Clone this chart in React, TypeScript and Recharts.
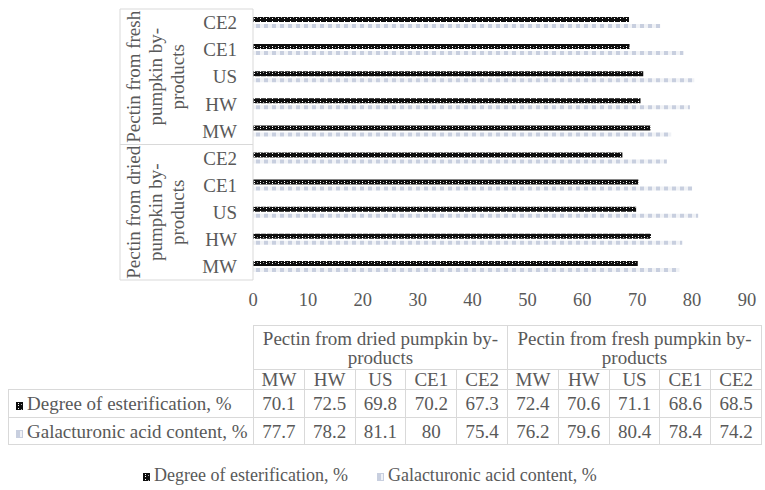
import { Bar, BarChart, Legend, XAxis, YAxis } from "recharts";

const METHODS = ["MW", "HW", "US", "CE1", "CE2"];
const GROUPS = ["Pectin from dried pumpkin by-products", "Pectin from fresh pumpkin by-products"];
const GROUP_LINES = [
  ["Pectin from dried", "pumpkin by-", "products"],
  ["Pectin from fresh", "pumpkin by-", "products"],
];
const SERIES = ["Degree of esterification, %", "Galacturonic acid content, %"];
const DE_DRIED = [70.1, 72.5, 69.8, 70.2, 67.3];
const DE_FRESH = [72.4, 70.6, 71.1, 68.6, 68.5];
const GA_DRIED = [77.7, 78.2, 81.1, 80, 75.4];
const GA_FRESH = [76.2, 79.6, 80.4, 78.4, 74.2];
const X_TICKS = [0, 10, 20, 30, 40, 50, 60, 70, 80, 90];

const FONT = '"Liberation Serif", "Times New Roman", serif';
const TEXT = "#595959";
const LINE = "#d9d9d9";

// layout
const PLOT_TOP = 9;
const PLOT_BOTTOM = 280;
const AXIS_X = 253;
const BOX_LEFT = 120;

const rows = [DE_DRIED, DE_FRESH].flatMap((de, g) =>
  METHODS.map((m, i) => ({
    key: `${g}-${m}`,
    method: m,
    group: g,
    de: de[i],
    ga: (g === 0 ? GA_DRIED : GA_FRESH)[i],
  }))
);

const band = (PLOT_BOTTOM - PLOT_TOP) / rows.length;

function CategoryTick(props: any) {
  const { y, payload } = props;
  const idx = rows.findIndex((r) => r.key === payload.value);
  const row = rows[idx];
  const pos = idx % METHODS.length;
  const mid = Math.floor(METHODS.length / 2);
  return (
    <g>
      <text x={237} y={y} dy="0.35em" textAnchor="end" fill={TEXT} fontSize={19} fontFamily={FONT}>
        {row.method}
      </text>
      {pos === mid && (
        <text
          transform={`translate(155, ${y}) rotate(-90)`}
          textAnchor="middle"
          fill={TEXT}
          fontSize={19}
          fontFamily={FONT}
        >
          {GROUP_LINES[row.group].map((l, i) => (
            <tspan key={i} x={0} y={(i - 1) * 22} dy="0.35em">
              {l}
            </tspan>
          ))}
        </text>
      )}
      {pos === METHODS.length - 1 && (
        <line x1={BOX_LEFT} x2={AXIS_X} y1={y - band / 2} y2={y - band / 2} stroke={LINE} />
      )}
      {idx === 0 && (
        <>
          <line x1={BOX_LEFT} x2={AXIS_X} y1={y + band / 2} y2={y + band / 2} stroke={LINE} />
          <line x1={BOX_LEFT} x2={BOX_LEFT} y1={y + band / 2} y2={y + band / 2 - band * rows.length} stroke={LINE} />
        </>
      )}
    </g>
  );
}

function KeyIcon({ s }: { s: number }) {
  return (
    <svg width={8} height={9} style={{ marginRight: 3, verticalAlign: "-1px" }}>
      {s === 0 ? (
        <rect x={0} y={0} width={7} height={8} fill="url(#deP)" />
      ) : (
        <rect x={0.5} y={0.5} width={6} height={7} fill="url(#gaP)" stroke="#c8cfdf" />
      )}
    </svg>
  );
}

function LegendContent() {
  return (
    <div style={{ display: "flex", fontFamily: FONT, fontSize: 18, color: TEXT, paddingLeft: 143 }}>
      <span style={{ marginRight: 29 }}>
        <KeyIcon s={0} />
        {SERIES[0]}
      </span>
      <span>
        <KeyIcon s={1} />
        {SERIES[1]}
      </span>
    </div>
  );
}

const cell: React.CSSProperties = { border: `1px solid ${LINE}`, padding: 0, textAlign: "center" };

function DataTable() {
  return (
    <table
      style={{
        position: "absolute",
        left: 8,
        top: 325,
        borderCollapse: "collapse",
        tableLayout: "fixed",
        width: 753,
        fontFamily: FONT,
        fontSize: 19,
        color: TEXT,
        lineHeight: "19px",
      }}
    >
      <colgroup>
        <col style={{ width: 245 }} />
        {rows.map((r) => (
          <col key={r.key} style={{ width: 50.8 }} />
        ))}
      </colgroup>
      <tbody>
        <tr style={{ height: 44 }}>
          <td />
          {GROUPS.map((g) => (
            <td key={g} colSpan={METHODS.length} style={cell}>
              {g}
            </td>
          ))}
        </tr>
        <tr style={{ height: 20 }}>
          <td />
          {rows.map((r) => (
            <td key={r.key} style={cell}>
              {r.method}
            </td>
          ))}
        </tr>
        {(["de", "ga"] as const).map((k, s) => (
          <tr key={k} style={{ height: s === 0 ? 28 : 27 }}>
            <td style={{ ...cell, textAlign: "left", paddingLeft: 7, whiteSpace: "nowrap" }}>
              <KeyIcon s={s} />
              {SERIES[s]}
            </td>
            {rows.map((r) => (
              <td key={r.key} style={cell}>
                {r[k]}
              </td>
            ))}
          </tr>
        ))}
      </tbody>
    </table>
  );
}

export default function App() {
  return (
    <div style={{ position: "absolute", left: 0, top: 0, width: 765, height: 490, background: "#fff" }}>
      <BarChart
        width={765}
        height={490}
        data={rows}
        layout="vertical"
        margin={{ top: PLOT_TOP, right: 18, bottom: 170, left: 0 }}
        barGap={2}
      >
        <defs>
          <pattern id="deP" width={6} height={5} patternUnits="userSpaceOnUse">
            <rect width={6} height={5} fill="#0d0d0d" />
            <rect x={2} y={1} width={1} height={1} fill="#fff" />
            <rect x={2} y={3} width={1} height={1} fill="#fff" />
            <rect x={5} y={2} width={1} height={1} fill="#aaa" />
          </pattern>
          <pattern id="gaP" width={8} height={4} patternUnits="userSpaceOnUse">
            <rect width={8} height={4} fill="#f0f2f6" />
            <rect width={4} height={4} fill="#c8cfdf" />
          </pattern>
        </defs>
        <XAxis
          type="number"
          domain={[0, 90]}
          ticks={X_TICKS}
          axisLine={false}
          tickLine={false}
          height={40}
          tickMargin={7}
          tick={{ fill: TEXT, fontSize: 18.5, fontFamily: FONT }}
        />
        <YAxis
          type="category"
          dataKey="key"
          reversed
          width={AXIS_X}
          axisLine={{ stroke: LINE }}
          tickLine={false}
          interval={0}
          tick={<CategoryTick />}
        />
        <Legend
          layout="horizontal"
          verticalAlign="middle"
          content={<LegendContent />}
          wrapperStyle={{ top: 465, left: 0, width: 765 }}
        />
        <Bar dataKey="de" name={SERIES[0]} fill="url(#deP)" barSize={5} isAnimationActive={false} />
        <Bar dataKey="ga" name={SERIES[1]} fill="url(#gaP)" barSize={4} isAnimationActive={false} />
      </BarChart>
      <DataTable />
    </div>
  );
}
